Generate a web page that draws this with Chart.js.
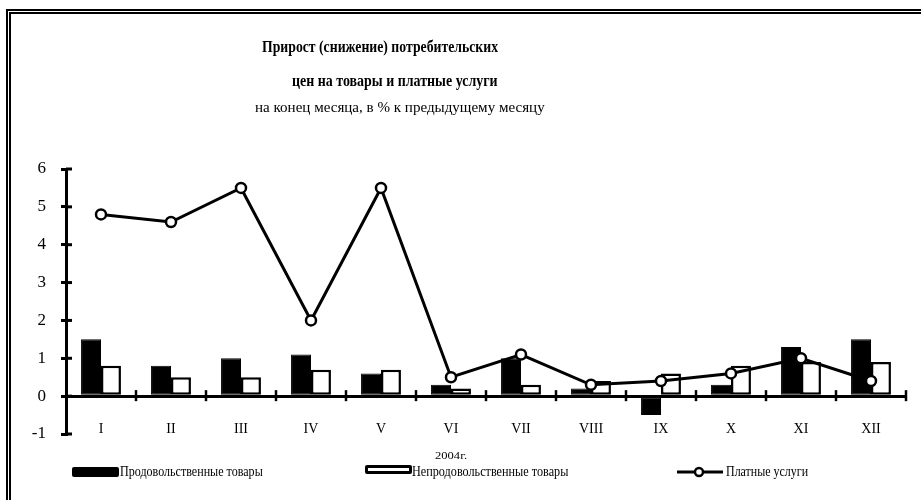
<!DOCTYPE html>
<html><head><meta charset="utf-8">
<script src="https://cdn.jsdelivr.net/npm/chart.js@4.4.1/dist/chart.umd.min.js"></script>
<style>
html,body{margin:0;padding:0;background:#fff;overflow:hidden;}
#wrap{position:relative;width:921px;height:500px;overflow:hidden;font-family:"Liberation Serif","Times New Roman",serif;color:#000;background:#fff;}
canvas{position:absolute;left:0;top:0;}
.frame1{position:absolute;left:6px;top:9px;width:915px;height:491px;border-left:2px solid #000;border-top:2px solid #000;box-sizing:border-box;}
.frame2{position:absolute;left:9px;top:12px;width:912px;height:488px;border-left:2px solid #000;border-top:2px solid #000;box-sizing:border-box;}
.t{position:absolute;white-space:nowrap;transform-origin:0 50%;line-height:1;}
.box{position:absolute;box-sizing:border-box;border-radius:2px;}
</style></head>
<body><div id="wrap">
<canvas id="c" width="921" height="500"></canvas>
<div class="frame1"></div><div class="frame2"></div>
<div class="t" data-x="262" data-y="46" data-w="236" style="font-size:17px;font-weight:bold">Прирост (снижение) потребительских</div>
<div class="t" data-x="292" data-y="80" data-w="206" style="font-size:17px;font-weight:bold">цен на товары и платные услуги</div>
<div class="t" data-x="255" data-y="107" data-w="290" style="font-size:15px">на конец месяца, в % к предыдущему месяцу</div>
<div class="t" data-x="435" data-y="455" data-w="32" style="font-size:11px">2004г.</div>
<div class="box" style="left:72px;top:467px;width:47px;height:10px;background:#000"></div>
<div class="t" data-x="120" data-y="472" data-w="143" style="font-size:14px">Продовольственные товары</div>
<div class="box" style="left:365px;top:465px;width:47px;height:9px;background:#fff;border:3px solid #000"></div>
<div class="t" data-x="412" data-y="472" data-w="156" style="font-size:14px">Непродовольственные товары</div>
<svg style="position:absolute;left:677px;top:466px" width="46" height="12"><line x1="0" y1="6" x2="46" y2="6" stroke="#000" stroke-width="3"/><circle cx="22" cy="6" r="4" fill="#fff" stroke="#000" stroke-width="2.5"/></svg>
<div class="t" data-x="726" data-y="472" data-w="82" style="font-size:14px">Платные услуги</div>
</div>
<script>
const categories = ['I','II','III','IV','V','VI','VII','VIII','IX','X','XI','XII'];
const foodGoods = [1.5, 0.8, 1.0, 1.1, 0.6, 0.3, 1.0, 0.2, -0.5, 0.3, 1.3, 1.5];
const nonFoodGoods = [0.8, 0.5, 0.5, 0.7, 0.7, 0.2, 0.3, 0.4, 0.6, 0.8, 0.9, 0.9];
const paidServices = [4.8, 4.6, 5.5, 2.0, 5.5, 0.5, 1.1, 0.3, 0.4, 0.6, 1.0, 0.4];
const yTicks = [-1, 0, 1, 2, 3, 4, 5, 6];

document.querySelectorAll('.t').forEach(el => {
  const w = el.offsetWidth, h = el.offsetHeight;
  const target = parseFloat(el.dataset.w);
  el.style.left = el.dataset.x + 'px';
  el.style.top = (parseFloat(el.dataset.y) - h / 2) + 'px';
  el.style.transform = 'scaleX(' + (target / w) + ')';
});

const crossTicks = {
  id: 'crossTicks',
  afterDatasetsDraw(chart) {
    const { ctx, scales: { x, y } } = chart;
    ctx.save();
    ctx.strokeStyle = '#000';
    ctx.lineWidth = 3;
    y.ticks.forEach(t => {
      const py = y.getPixelForValue(t.value);
      ctx.beginPath(); ctx.moveTo(y.right, py); ctx.lineTo(y.right + 6, py); ctx.stroke();
    });
    const y0 = y.getPixelForValue(0);
    ctx.lineWidth = 2.5;
    for (let i = 1; i <= categories.length; i++) {
      const px = x.getPixelForValue(i - 0.5);
      ctx.beginPath(); ctx.moveTo(px, y0 - 6); ctx.lineTo(px, y0 + 5); ctx.stroke();
    }
    ctx.restore();
  }
};

const serif = '"Liberation Serif", "Times New Roman", serif';
new Chart(document.getElementById('c'), {
  data: {
    labels: categories,
    datasets: [
      { type: 'line', label: 'Платные услуги', data: paidServices, borderColor: '#000', borderWidth: 3,
        pointRadius: 5, pointBackgroundColor: '#fff', pointBorderColor: '#000', pointBorderWidth: 2.5,
        tension: 0, order: 0, clip: false },
      { type: 'bar', label: 'Продовольственные товары', data: foodGoods, backgroundColor: '#000',
        borderColor: '#000', borderWidth: 1, borderSkipped: false, order: 1 },
      { type: 'bar', label: 'Непродовольственные товары', data: nonFoodGoods, backgroundColor: '#fff',
        borderColor: '#000', borderWidth: 2.5, borderSkipped: false, order: 1 }
    ]
  },
  options: {
    responsive: false, animation: false, devicePixelRatio: 1,
    layout: { padding: { left: 0, right: 15, top: 169, bottom: 0 } },
    datasets: { bar: { categoryPercentage: 0.57, barPercentage: 1 } },
    plugins: { legend: { display: false }, title: { display: false }, tooltip: { enabled: false } },
    scales: {
      x: {
        position: 'bottom',
        grid: { display: false }, border: { display: false },
        ticks: { color: '#000', font: { family: serif, size: 14 }, mirror: true, padding: -4, maxRotation: 0, autoSkip: false },
        afterFit: s => { s.height = 66; }
      },
      y: {
        min: -1, max: 6,
        afterBuildTicks: s => { s.ticks = yTicks.map(v => ({ value: v })); },
        ticks: { color: '#000', font: { family: serif, size: 17 }, padding: 15 },
        grid: {
          color: c => (c.tick && c.tick.value === 0) ? '#000' : 'rgba(0,0,0,0)',
          lineWidth: 3, tickColor: '#000', tickWidth: 3, tickLength: 5, drawOnChartArea: true
        },
        border: { display: true, color: '#000', width: 3 },
        afterFit: s => { s.width = 66; }
      }
    }
  },
  plugins: [crossTicks]
});
</script>
</body></html>
